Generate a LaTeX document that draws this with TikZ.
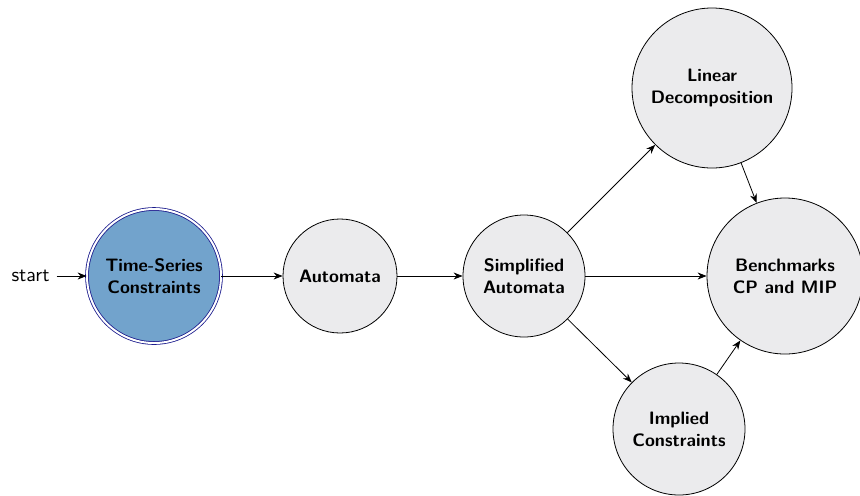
\documentclass[tikz,border=0pt]{standalone}
\usepackage{tikz}
\usetikzlibrary{arrows.meta,automata}
\definecolor{tsblue}{RGB}{114,163,204}
\definecolor{stategray}{RGB}{235,235,237}
\definecolor{ringblue}{RGB}{25,25,140}

\begin{document}
\begin{tikzpicture}[x=0.5pt,y=0.5pt,>={Stealth[length=4.5pt,width=3.5pt]},
		every state/.style={draw,fill=stategray,font=\small\sffamily\bfseries,align=center,inner sep=0pt},
		initial text={\normalsize\sffamily\mdseries start}, initial distance=15pt]
		\useasboundingbox (0,0) rectangle (860,495);

		\node[state,initial,draw=ringblue,double=white,double distance=1pt,fill=tsblue,minimum size=67pt] (ts) at (154,219) {Time-Series\\Constraints};
		\node[state,minimum size=57pt] (auto) at (340,219) {Automata};
		\node[state,minimum size=61pt] (simp) at (524,219) {Simplified\\Automata};
		\node[state,minimum size=80pt] (lin) at (712,407) {Linear\\Decomposition};
		\node[state,minimum size=78pt] (bench) at (785,219) {Benchmarks\\CP and MIP};
		\node[state,minimum size=66pt] (impl) at (679,66) {Implied\\Constraints};

		\foreach \a/\b in {ts/auto, auto/simp, simp/lin, simp/bench, simp/impl, lin/bench, impl/bench} {
			\draw[->] (\a) -- (\b);
		}
	\end{tikzpicture}
\end{document}
